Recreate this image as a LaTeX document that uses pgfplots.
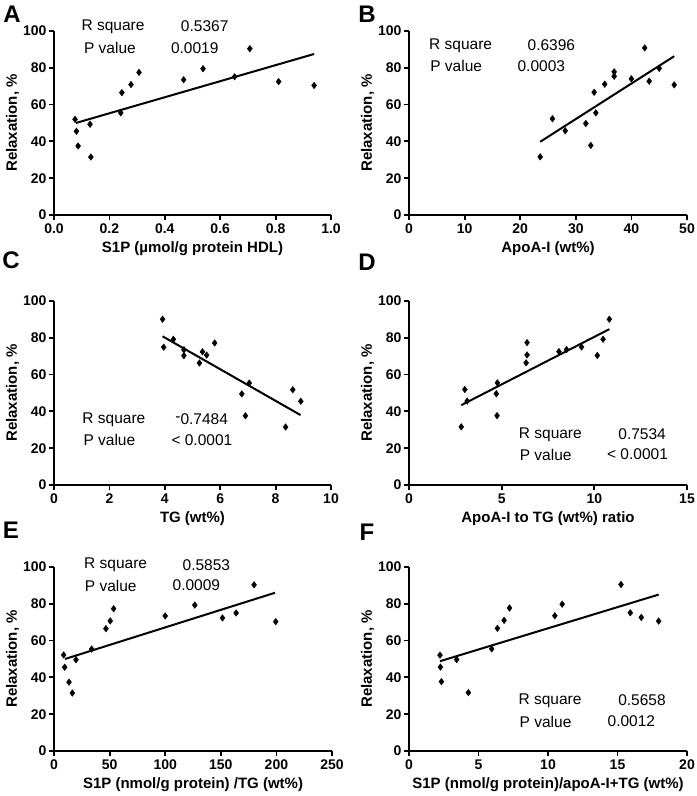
\documentclass[border=0pt]{standalone}
\usepackage{pgfplots}
\pgfplotsset{compat=1.18}
\usepackage{fontspec}
\setmainfont{Liberation Sans}
\newcommand{\ticklab}{\bfseries\fontsize{14bp}{14bp}\selectfont}
\newcommand{\labfont}{\bfseries\fontsize{15bp}{15bp}\selectfont}
\newcommand{\annfont}{\fontsize{15.5bp}{15.5bp}\selectfont}
\newcommand{\letfont}{\bfseries\fontsize{24bp}{24bp}\selectfont}
\pgfplotsset{
  panel/.style={
    width=277bp, height=184bp, scale only axis,
    axis lines=left, axis line style={line width=2.2bp,-},
    ymin=0, ymax=100, ytick={0,20,...,100},
    tick align=outside, major tick length=5bp,
    tick style={line width=1.8bp,black},
    clip=false, enlargelimits=false,
    ticklabel style={font=\ticklab},
    yticklabel style={xshift=1bp},
    /pgf/number format/assume math mode=true,
    label style={font=\labfont},
    ylabel={Relaxation, \%},
    ylabel shift=-3bp,
    xlabel shift=1bp,
  },
  pts/.style={only marks, mark=diamond*, mark size=3.3bp, black},
  fit/.style={black, line width=2bp, no marks},
}
\begin{document}
\begin{tikzpicture}
\useasboundingbox (0bp,0bp) rectangle (697bp,796bp);
\node[font=\letfont] at (12bp,782bp) {A};
\node[font=\letfont] at (367bp,782bp) {B};
\node[font=\letfont] at (11bp,536bp) {C};
\node[font=\letfont] at (367bp,534bp) {D};
\node[font=\letfont] at (11bp,266bp) {E};
\node[font=\letfont] at (367bp,264bp) {F};

% A
\begin{axis}[panel, at={(54bp,581bp)}, anchor=south west,
  xmin=0, xmax=1, xtick={0,0.2,...,1.0},
  xticklabel style={/pgf/number format/.cd, fixed, fixed zerofill, precision=1},
  xlabel={S1P (µmol/g protein HDL)}]
\addplot[pts] coordinates {(0.076,52.0) (0.081,45.5) (0.087,37.5) (0.130,49.3) (0.133,31.5) (0.241,55.5) (0.245,66.5) (0.278,70.9) (0.307,77.5) (0.468,73.5) (0.538,79.5) (0.652,75.1) (0.707,90.4) (0.811,72.5) (0.939,70.4)};
\addplot[fit] coordinates {(0.079,50.0) (0.939,87.5)};
\node[anchor=west,font=\annfont] at (axis cs:0.087,102.4) {R square};
\node[font=\annfont] at (axis cs:0.544,102.4) {0.5367};
\node[anchor=west,font=\annfont] at (axis cs:0.096,90.9) {P value};
\node[font=\annfont] at (axis cs:0.508,90.9) {0.0019};
\end{axis}

% B
\begin{axis}[panel, at={(409bp,581bp)}, anchor=south west, width=278bp,
  xmin=0, xmax=50, xtick={0,10,...,50},
  xlabel={ApoA-I (wt\%)}]
\addplot[pts] coordinates {(23.6,31.6) (25.8,52.3) (28.1,45.8) (31.8,49.7) (32.7,37.8) (33.3,66.7) (33.6,55.5) (35.2,71.1) (36.9,77.8) (36.9,75.4) (40.0,74.0) (42.4,90.8) (43.2,72.7) (45.0,79.7) (47.7,70.7)};
\addplot[fit] coordinates {(23.6,39.8) (47.7,86.3)};
\node[anchor=west,font=\annfont] at (axis cs:3.0,92.2) {R square};
\node[font=\annfont] at (axis cs:25.6,92.2) {0.6396};
\node[anchor=west,font=\annfont] at (axis cs:3.2,81.0) {P value};
\node[font=\annfont] at (axis cs:23.8,81.0) {0.0003};
\end{axis}

% C
\begin{axis}[panel, at={(54bp,311bp)}, anchor=south west,
  xmin=0, xmax=10, xtick={0,2,...,10},
  xlabel={TG (wt\%)}]
\addplot[pts] coordinates {(3.92,90.1) (3.96,74.9) (4.31,79.2) (4.69,70.3) (4.69,73.5) (5.25,66.3) (5.36,72.4) (5.51,70.6) (5.80,77.2) (6.78,49.5) (6.91,37.6) (7.05,55.4) (8.36,31.5) (8.62,51.8) (8.91,45.5)};
\addplot[fit] coordinates {(3.92,80.8) (8.9,38.0)};
\node[anchor=west,font=\annfont] at (axis cs:0.90,35.7) {R square};
\node[font=\annfont] at (axis cs:5.33,35.7) {\raisebox{0.35ex}{-}0.7484};
\node[anchor=west,font=\annfont] at (axis cs:0.94,24.6) {P value};
\node[font=\annfont] at (axis cs:5.34,24.6) {< 0.0001};
\end{axis}

% D
\begin{axis}[panel, at={(409bp,311bp)}, anchor=south west, width=278bp,
  xmin=0, xmax=15, xtick={0,5,10,15},
  xlabel={ApoA-I to TG (wt\%) ratio}]
\addplot[pts] coordinates {(2.82,31.6) (3.01,51.9) (3.14,45.6) (4.71,49.6) (4.75,37.7) (4.77,55.5) (6.32,66.4) (6.37,70.7) (6.37,77.4) (8.09,72.5) (8.50,73.6) (9.31,75.0) (10.16,70.4) (10.47,79.2) (10.81,90.1)};
\addplot[fit] coordinates {(2.82,43.4) (10.81,84.7)};
\node[anchor=west,font=\annfont] at (axis cs:5.74,27.5) {R square};
\node[font=\annfont] at (axis cs:12.58,27.5) {0.7534};
\node[anchor=west,font=\annfont] at (axis cs:5.79,16.5) {P value};
\node[font=\annfont] at (axis cs:12.33,16.5) {< 0.0001};
\end{axis}

% E
\begin{axis}[panel, at={(54bp,45bp)}, anchor=south west, width=278bp,
  xmin=0, xmax=250, xtick={0,50,...,250},
  xlabel={S1P (nmol/g protein) /TG (wt\%)}]
\addplot[pts] coordinates {(8.7,52.2) (9.6,45.5) (13.5,37.4) (16.5,31.5) (19.8,49.6) (33.8,55.4) (46.7,66.5) (50.6,70.7) (53.6,77.3) (100.0,73.4) (126.6,79.3) (151.5,72.3) (163.8,75.0) (179.9,90.3) (199.4,70.3)};
\addplot[fit] coordinates {(9.9,50.0) (198.8,86.0)};
\node[anchor=west,font=\annfont] at (axis cs:24.0,101.1) {R square};
\node[font=\annfont] at (axis cs:137,101.1) {0.5853};
\node[anchor=west,font=\annfont] at (axis cs:24.6,89.9) {P value};
\node[font=\annfont] at (axis cs:128,89.9) {0.0009};
\end{axis}

% F
\begin{axis}[panel, at={(409bp,45bp)}, anchor=south west, width=278bp,
  xmin=0, xmax=20, xtick={0,5,...,20},
  xlabel={S1P (nmol/g protein)/apoA-I+TG (wt\%)}]
\addplot[pts] coordinates {(2.23,52.1) (2.26,45.6) (2.33,37.7) (3.43,49.7) (4.27,31.7) (5.95,55.5) (6.36,66.7) (6.84,71.0) (7.23,77.7) (10.49,73.5) (11.02,79.8) (15.25,90.5) (15.92,75.1) (16.71,72.6) (17.96,70.6)};
\addplot[fit] coordinates {(2.23,48.8) (17.96,85.0)};
\node[anchor=west,font=\annfont] at (axis cs:7.63,27.4) {R square};
\node[font=\annfont] at (axis cs:16.76,27.4) {0.5658};
\node[anchor=west,font=\annfont] at (axis cs:7.71,16.0) {P value};
\node[font=\annfont] at (axis cs:16.0,16.0) {0.0012};
\end{axis}
\end{tikzpicture}
\end{document}
